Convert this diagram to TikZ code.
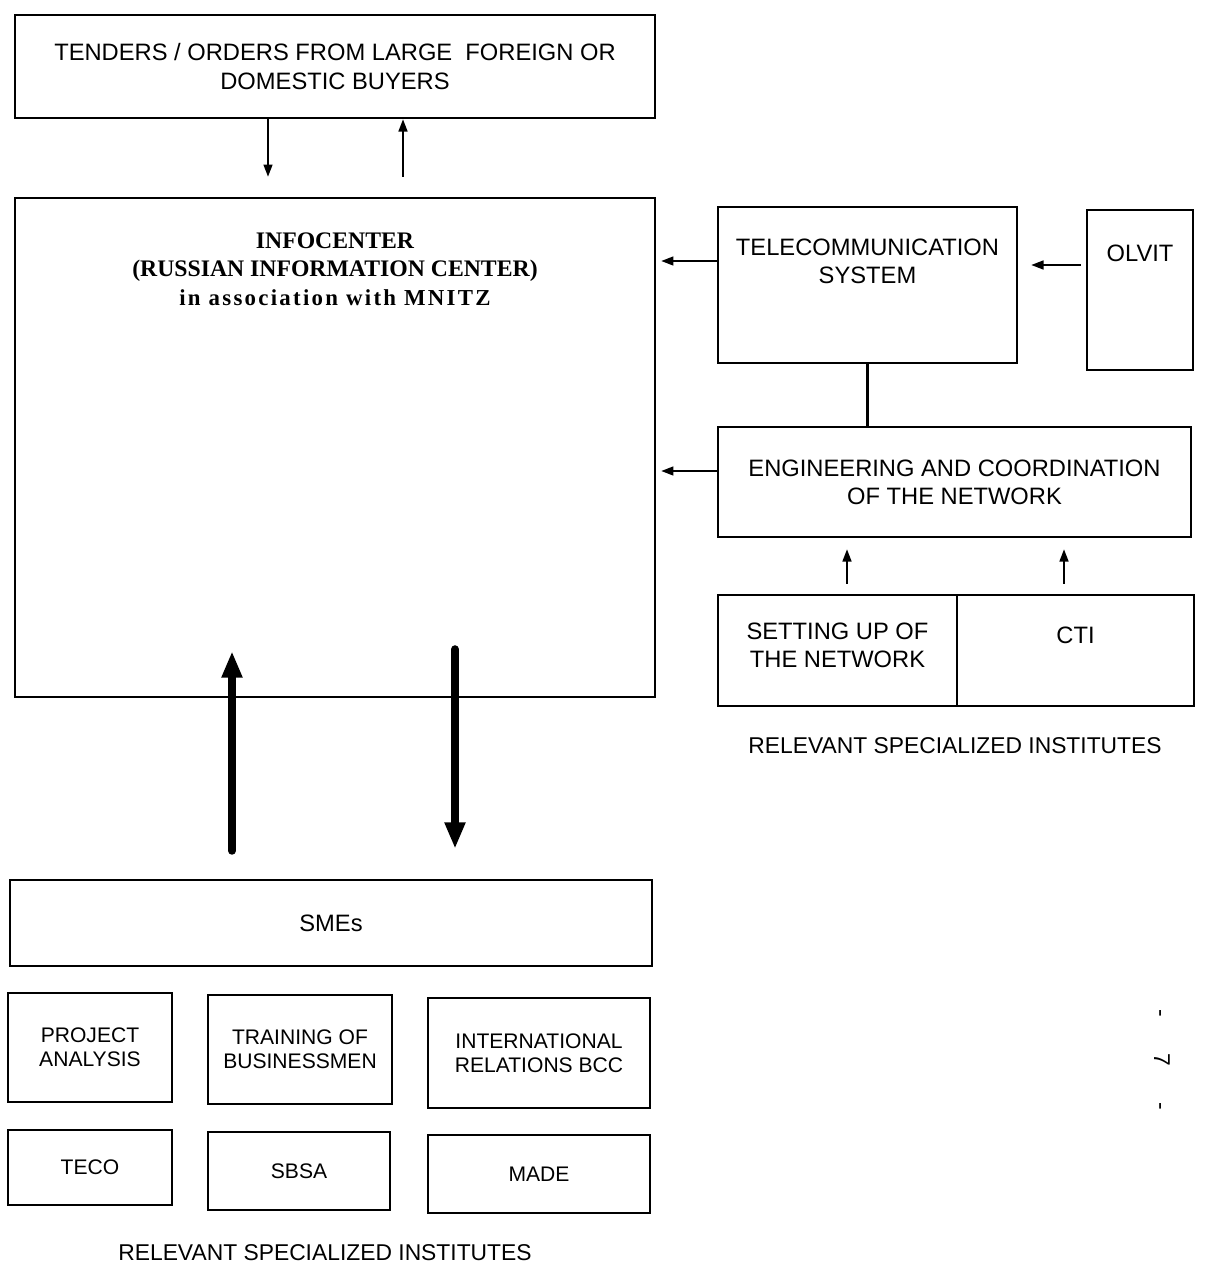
\documentclass[tikz,border=0pt]{standalone}
\usepackage{fontspec}
\setmainfont{Liberation Sans}
\newfontfamily\infofont{Liberation Serif}
\newfontfamily\infospaced[LetterSpace=10]{Liberation Serif}
\usetikzlibrary{arrows.meta,calc}
\newcommand{\bigtxt}{\fontsize{13.5}{16}\selectfont}
\newcommand{\smalltxt}{\fontsize{12}{13.6}\selectfont}

\begin{document}
\begin{tikzpicture}[
        x = .02cm,
        y = -.02cm,
        box/.style = {draw, line width = 1.4pt, inner sep = 0, align = center, font = \bigtxt},
        smallbox/.style = {box, font = \smalltxt},
        toptext/.style = {anchor = north, align = center, inner sep = 0, font = \bigtxt},
        thinarrow/.style = {line width = 1.2pt, -{Triangle[length = 7pt, width = 5pt]}},
        thickarrow/.style = {line width = 4.5pt, line cap = round, -{Triangle[length = 15pt, width = 11pt]}}
    ]
        \useasboundingbox (0, 0) rectangle (1207, 1268);

        % left column
        \node[box, minimum width = 12.8cm, minimum height = 2.06cm] (tenders) at (335, 66.5)
            {TENDERS / ORDERS FROM LARGE\ \ FOREIGN OR\\DOMESTIC BUYERS};
        \node[box, minimum width = 12.8cm, minimum height = 9.98cm] (infocenter) at (335, 447.5) {};
        \node[toptext, font = \fontsize{13.5}{16}\infofont\bfseries] (infotext) at ($(infocenter.north) + (0, 36)$)
            {INFOCENTER\\(RUSSIAN INFORMATION CENTER)\\{\infospaced\fontsize{13}{16}\selectfont in association with MNITZ}};

        % right column
        \node[box, minimum width = 5.98cm, minimum height = 3.12cm] (telecom) at (867.5, 285) {};
        \node[toptext] (telecomtext) at ($(telecom.north) + (0, 33)$) {TELECOMMUNICATION\\SYSTEM};
        \node[box, minimum width = 2.12cm, minimum height = 3.2cm] (olvit) at (1140, 290) {};
        \node[toptext] (olvittext) at ($(olvit.north) + (0, 36)$) {OLVIT};
        \node[box, minimum width = 9.46cm, minimum height = 2.2cm] (engineering) at (954.5, 482)
            {ENGINEERING AND COORDINATION\\OF THE NETWORK};
        \node[box, minimum width = 4.78cm, minimum height = 2.22cm] (setup) at (837.5, 650.5) {};
        \node[toptext] (setuptext) at ($(setup.north) + (0, 29)$) {SETTING UP OF\\THE NETWORK};
        \node[box, minimum width = 4.74cm, minimum height = 2.22cm] (cti) at (1075.5, 650.5) {};
        \node[toptext] (ctitext) at ($(cti.north) + (0, 33)$) {CTI};
        \node[font = \fontsize{13}{16}\selectfont] (instright) at (955, 746) {RELEVANT SPECIALIZED INSTITUTES};

        % SMEs and institutes
        \node[box, minimum width = 12.84cm, minimum height = 1.72cm] (smes) at (331, 923) {SMEs};
        \node[smallbox, minimum width = 3.28cm, minimum height = 2.18cm] (project) at (90, 1047.5) {PROJECT\\ANALYSIS};
        \node[smallbox, minimum width = 3.68cm, minimum height = 2.18cm] (training) at (300, 1049.5) {TRAINING OF\\BUSINESSMEN};
        \node[smallbox, minimum width = 4.44cm, minimum height = 2.2cm] (intrel) at (539, 1053) {INTERNATIONAL\\RELATIONS BCC};
        \node[smallbox, minimum width = 3.28cm, minimum height = 1.5cm] (teco) at (90, 1167.5) {TECO};
        \node[smallbox, minimum width = 3.64cm, minimum height = 1.56cm] (sbsa) at (299, 1171) {SBSA};
        \node[smallbox, minimum width = 4.44cm, minimum height = 1.56cm] (made) at (539, 1174) {MADE};
        \node[font = \fontsize{13}{16}\selectfont] (instleft) at (325, 1253) {RELEVANT SPECIALIZED INSTITUTES};

        \node[rotate = -90, font = \fontsize{13}{16}\selectfont] (pagenum) at (1162, 1060)
            {-\hspace{1.6em}7\hspace{1.6em}-};

        % connectors
        \coordinate (downx) at (268, 0);
        \coordinate (upx) at (403, 0);
        \draw[thinarrow, shorten >= .4cm] (tenders.south -| downx) -- (infocenter.north -| downx);
        \draw[thinarrow, shorten <= .4cm] (infocenter.north -| upx) -- (tenders.south -| upx);

        \coordinate (telout) at ($(telecom.west) + (0, -24)$);
        \coordinate (olvitout) at ($(olvit.west) + (0, -25)$);
        \coordinate (engout) at ($(engineering.west) + (0, -11)$);
        \draw[thinarrow, shorten >= .1cm] (telout) -- (telout -| infocenter.east);
        \draw[thinarrow, shorten <= .1cm, shorten >= .26cm] (olvitout) -- (olvitout -| telecom.east);
        \draw[thinarrow, shorten >= .1cm] (engout) -- (engout -| infocenter.east);
        \draw[line width = 1.4pt] (telecom.south) -- (engineering.north -| telecom.south);

        \coordinate (setupx) at (847, 0);
        \coordinate (ctix) at (1064, 0);
        \draw[thinarrow, shorten <= .2cm, shorten >= .22cm] (setup.north -| setupx) -- (engineering.south -| setupx);
        \draw[thinarrow, shorten <= .2cm, shorten >= .22cm] (cti.north -| ctix) -- (engineering.south -| ctix);

        \coordinate (smeup) at (232, 0);
        \coordinate (smedown) at (455, 0);
        \draw[thickarrow, shorten <= .56cm, shorten >= -.94cm] (smes.north -| smeup) -- (infocenter.south -| smeup);
        \draw[thickarrow, shorten <= -.98cm, shorten >= .6cm] (infocenter.south -| smedown) -- (smes.north -| smedown);
    \end{tikzpicture}
\end{document}
